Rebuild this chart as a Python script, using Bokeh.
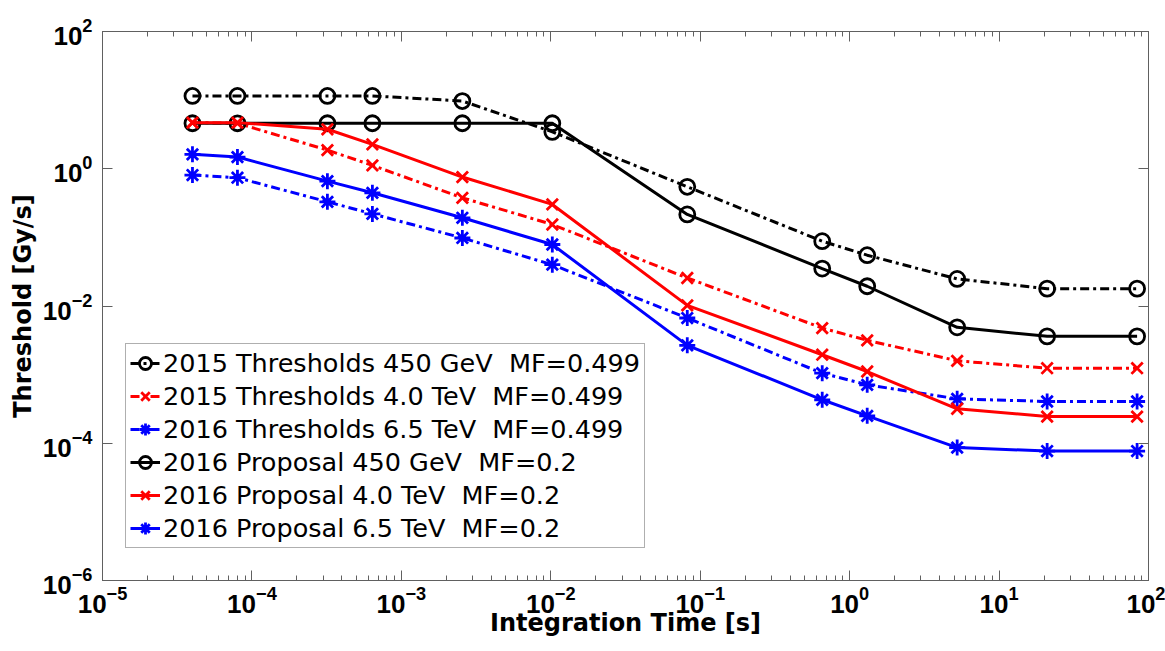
from bokeh.plotting import figure
from bokeh.models import LogAxis, FixedTicker, LogTickFormatter, Legend, LegendItem, CustomJSTickFormatter
from bokeh.embed import file_html
from bokeh.resources import INLINE

# Integration times [s]
times = [4e-5, 8e-5, 3.2e-4, 6.4e-4, 2.56e-3, 1.024e-2, 8.192e-2,
         0.65536, 1.31072, 5.24288, 20.97152, 83.88608]

thr2015_450gev = [11.5, 11.5, 11.5, 11.5, 9.7, 3.45, 0.546, 0.088, 0.055, 0.0248, 0.0179, 0.0179]
thr2015_4tev = [4.7, 4.6, 1.87, 1.12, 0.377, 0.154, 0.0256, 0.00477, 0.00316, 0.00159, 0.00124, 0.00124]
thr2016_65tev = [0.81, 0.74, 0.33, 0.22, 0.098, 0.04, 0.00668, 0.00105, 7.1e-4, 4.44e-4, 4.06e-4, 4.06e-4]
prop2016_450gev = [4.6, 4.6, 4.6, 4.6, 4.6, 4.6, 0.216, 0.0351, 0.0194, 0.00489, 0.00361, 0.00361]
prop2016_4tev = [4.7, 4.7, 3.76, 2.27, 0.757, 0.302, 0.0102, 0.00195, 0.00111, 3.18e-4, 2.45e-4, 2.45e-4]
prop2016_65tev = [1.62, 1.48, 0.66, 0.446, 0.193, 0.0787, 0.00267, 4.3e-4, 2.51e-4, 8.65e-5, 7.7e-5, 7.7e-5]

labels = [
    "2015 Thresholds 450 GeV  MF=0.499",
    "2015 Thresholds 4.0 TeV  MF=0.499",
    "2016 Thresholds 6.5 TeV  MF=0.499",
    "2016 Proposal 450 GeV  MF=0.2",
    "2016 Proposal 4.0 TeV  MF=0.2",
    "2016 Proposal 6.5 TeV  MF=0.2",
]

x_major = [1e-5, 1e-4, 1e-3, 1e-2, 1e-1, 1e0, 1e1, 1e2]
y_major = [1e-6, 1e-4, 1e-2, 1e0, 1e2]
x_minor = [k * d for d in x_major[:-1] for k in range(2, 10)]

AXIS_COLOR = "#606060"

p = figure(width=1165, height=651, x_axis_type="log", y_axis_type="log",
           x_range=(1e-5, 1e2), y_range=(1e-6, 1e2),
           output_backend="svg", toolbar_location=None,
           min_border_left=102, min_border_right=17,
           min_border_top=31, min_border_bottom=71)
p.background_fill_color = "white"
p.border_fill_color = "white"
p.outline_line_color = AXIS_COLOR
p.xgrid.visible = False
p.ygrid.visible = False


def style_axis(ax, minor=True):
    ax.axis_line_color = AXIS_COLOR
    ax.axis_line_width = 1
    ax.major_tick_line_color = AXIS_COLOR
    ax.minor_tick_line_color = AXIS_COLOR if minor else None
    ax.major_tick_in = 10
    ax.major_tick_out = 0
    ax.minor_tick_in = 5
    ax.minor_tick_out = 0
    ax.major_label_text_font = "Liberation Sans"
    ax.major_label_text_font_style = "bold"
    ax.major_label_text_color = "black"
    ax.major_label_text_font_size = "26px"
    ax.major_label_standoff = 10


xa = p.xaxis[0]
xa.ticker = FixedTicker(ticks=x_major, minor_ticks=x_minor)
xa.formatter = LogTickFormatter()
style_axis(xa)
xa.major_label_standoff = 5
xa.axis_label = "Integration Time [s]"
xa.axis_label_text_font = "DejaVu Sans"
xa.axis_label_text_font_style = "bold"
xa.axis_label_text_font_size = "24px"
xa.axis_label_text_color = "black"
xa.axis_label_standoff = -7

ya = p.yaxis[0]
ya.ticker = FixedTicker(ticks=y_major, minor_ticks=[])
ya.formatter = LogTickFormatter()
style_axis(ya, minor=False)
ya.major_label_standoff = 10
ya.axis_label = "Threshold [Gy/s]"
ya.axis_label_text_font = "DejaVu Sans"
ya.axis_label_text_font_style = "bold"
ya.axis_label_text_font_size = "24px"
ya.axis_label_text_color = "black"
ya.axis_label_standoff = 3

blank = CustomJSTickFormatter(code="return ''")
top = LogAxis(ticker=FixedTicker(ticks=x_major, minor_ticks=x_minor), formatter=blank)
style_axis(top)
top.major_label_text_font_size = "1px"
top.major_label_standoff = 0
p.add_layout(top, "above")
right = LogAxis(ticker=FixedTicker(ticks=y_major, minor_ticks=[]), formatter=blank)
style_axis(right, minor=False)
right.major_label_text_font_size = "1px"
right.major_label_standoff = 0
p.add_layout(right, "right")

DASH = "9 4 3 4"
series = [
    (thr2015_450gev, "black", DASH, "circle", 15),
    (thr2015_4tev, "red", DASH, "x", 16),
    (thr2016_65tev, "blue", DASH, "asterisk", 16),
    (prop2016_450gev, "black", "solid", "circle", 15),
    (prop2016_4tev, "red", "solid", "x", 16),
    (prop2016_65tev, "blue", "solid", "asterisk", 16),
]

items = []
for (vals, color, dash, marker, msize), lab in zip(series, labels):
    ln = p.line(times, vals, line_color=color, line_width=3, line_dash=dash)
    sc = p.scatter(times, vals, marker=marker, size=msize, line_color=color,
                   fill_color=None, line_width=2.8)
    items.append(LegendItem(label=lab, renderers=[ln, sc]))

legend = Legend(items=items, location=(23, 32))
legend.label_text_font = "DejaVu Sans"
legend.label_text_font_size = "25.5px"
legend.label_text_color = "black"
legend.glyph_width = 30
legend.glyph_height = 30
legend.label_height = 30
legend.label_standoff = 3
legend.spacing = 3
legend.padding = 4
legend.margin = 0
legend.border_line_color = AXIS_COLOR
legend.border_line_width = 1
legend.background_fill_color = "white"
legend.background_fill_alpha = 1.0
p.add_layout(legend)

open("out.html", "w").write(file_html(p, INLINE))
